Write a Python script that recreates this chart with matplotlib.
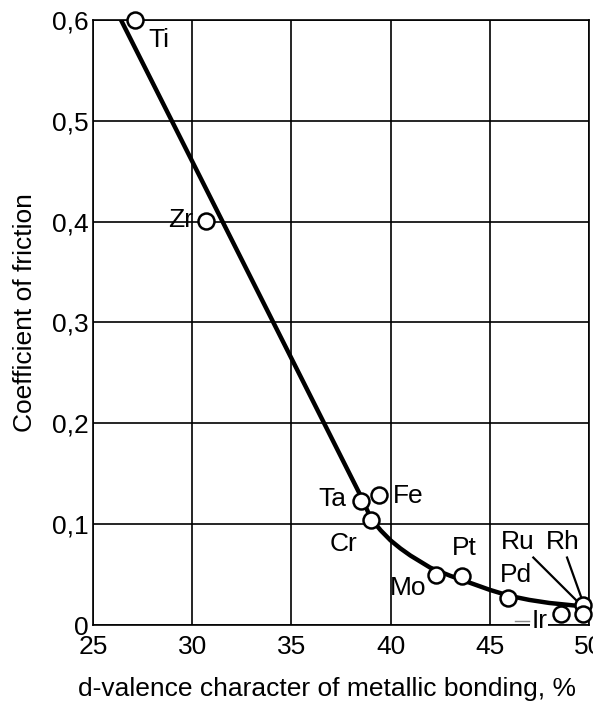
import matplotlib.pyplot as plt

plt.rcParams['font.family'] = ['Liberation Sans', 'DejaVu Sans']

# measured points
metals = ['Ti', 'Zr', 'Ta', 'Fe', 'Cr', 'Mo', 'Pt', 'Pd', 'Ir', 'Ru', 'Rh']
d_char = [27.1, 30.7, 38.5, 39.4, 39.0, 42.3, 43.6, 45.9, 48.6, 49.7, 49.7]
friction = [0.600, 0.401, 0.123, 0.129, 0.104, 0.050, 0.049, 0.027, 0.011, 0.020, 0.011]

# trend curve
curve_x = [26.4, 38.6, 39.0, 39.5, 40.0, 40.5, 41.0, 41.5, 42.0, 43.0,
           44.0, 45.0, 46.0, 47.0, 48.0, 49.0, 50.0]
curve_y = [0.600, 0.124, 0.106, 0.094, 0.084, 0.076, 0.069, 0.063, 0.057, 0.049,
           0.042, 0.035, 0.029, 0.025, 0.022, 0.020, 0.018]

# label centres
label_pos = {
    'Ti': (28.3, 0.580),
    'Zr': (29.4, 0.402),
    'Ta': (37.05, 0.125),
    'Fe': (40.9, 0.128),
    'Cr': (37.65, 0.080),
    'Mo': (40.9, 0.037),
    'Pt': (43.7, 0.076),
    'Pd': (46.3, 0.050),
    'Ir': (47.5, 0.004),
    'Ru': (46.4, 0.082),
    'Rh': (48.7, 0.082),
}

fig = plt.figure(figsize=(5.93, 7.04), dpi=100)
ax = fig.add_axes([0.157, 0.112, 0.836, 0.86])

ax.plot(curve_x, curve_y, color='black', lw=3.2, solid_capstyle='butt', zorder=3)
ax.plot(d_char, friction, 'o', ms=11.5, mfc='white', mec='black', mew=1.8,
        clip_on=False, zorder=4)

for name, (lx, ly) in label_pos.items():
    ax.text(lx, ly, name, ha='center', va='center', fontsize=19, zorder=5,
            clip_on=False,
            bbox=dict(fc='white', ec='none', pad=0.5) if name == 'Ir' else None)

# leader lines for Ru, Rh, Ir
ax.plot([47.2, 49.5], [0.067, 0.022], color='black', lw=1.6, zorder=3)
ax.plot([48.9, 49.7], [0.067, 0.023], color='black', lw=1.6, zorder=3)
ax.plot([46.3, 47.0], [0.004, 0.004], color='#888888', lw=1, zorder=6)

ax.set_xlim(25, 50)
ax.set_ylim(0, 0.6)
ax.set_xticks([25, 30, 35, 40, 45, 50])
ax.set_yticks([0, 0.1, 0.2, 0.3, 0.4, 0.5, 0.6])
ax.set_yticklabels(['0', '0,1', '0,2', '0,3', '0,4', '0,5', '0,6'])
ax.tick_params(length=0, labelsize=19)
ax.tick_params(axis='x', pad=7)
ax.tick_params(axis='y', pad=3)
ax.grid(True, color='black', lw=1.2)
for s in ax.spines.values():
    s.set_linewidth(1.2)

ax.set_xlabel('d-valence character of metallic bonding, %', fontsize=19)
ax.set_ylabel('Coefficient of friction', fontsize=19)
ax.xaxis.set_label_coords(0.472, -0.086)
ax.yaxis.set_label_coords(-0.113, 0.516)

fig.savefig('out.png', dpi=100)
